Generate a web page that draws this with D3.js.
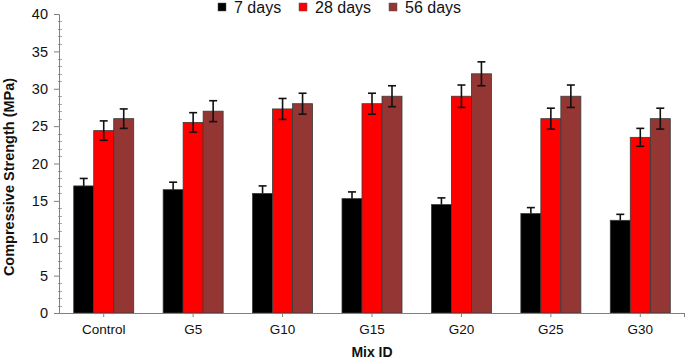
<!DOCTYPE html>
<html><head><meta charset="utf-8">
<script src="https://cdn.jsdelivr.net/npm/d3@7"></script>
<style>body{margin:0;background:#fff}svg{display:block;font-family:"Liberation Sans",Arial,sans-serif}</style>
</head><body><svg id="c" width="685" height="361"></svg>
<script>
const categories = ["Control","G5","G10","G15","G20","G25","G30"];
const seriesNames = ["7 days","28 days","56 days"];
const colors = ["#000000","#ff0000","#943634"];
const days7 = [17.0,16.5,16.0,15.3,14.5,13.3,12.4];
const days28 = [24.4,25.5,27.3,28.0,29.0,26.0,23.5];
const days56 = [26.0,27.0,28.0,29.0,32.0,29.0,26.0];
const err7 = [1.0,1.0,1.0,0.9,0.9,0.8,0.8];
const err28 = [1.3,1.3,1.4,1.4,1.5,1.4,1.2];
const err56 = [1.3,1.4,1.4,1.4,1.6,1.5,1.4];
const yTicks = [0,5,10,15,20,25,30,35,40];

const values = [days7, days28, days56];
const errs = [err7, err28, err56];
const FONT = "'Liberation Sans', Arial, sans-serif";

const svg = d3.select("#c");
const m = {l:59, r:0};
const W = 685, H = 361;
const x = d3.scaleBand().domain(categories).range([m.l, W - m.r]);
const y = d3.scaleLinear().domain([0,40]).range([313, 14]);
const groupW = 60;
const xs = d3.scaleBand().domain(d3.range(3)).range([0, groupW]);

// minor ticks
svg.append("g").selectAll("line").data(d3.range(0,41,1).filter(v=>v%5!==0)).join("line")
  .attr("x1", m.l-1).attr("x2", m.l+3).attr("y1", d=>Math.round(y(d))+0.5).attr("y2", d=>Math.round(y(d))+0.5)
  .attr("stroke","#aaa").attr("stroke-width",1);

// bars
const g = svg.append("g");
values.forEach((vals, si) => {
  g.append("g").selectAll("rect").data(vals).join("rect")
    .attr("x", (d,i)=> x(categories[i]) + x.bandwidth()/2 - groupW/2 + xs(si))
    .attr("y", d=>y(d))
    .attr("width", xs.bandwidth())
    .attr("height", d=> y(0)-y(d))
    .attr("fill", colors[si])
    .attr("stroke", "#3a3a3a").attr("stroke-width", 0.8);
});
// error bars
values.forEach((vals, si) => {
  const eg = svg.append("g").attr("stroke","#111").attr("stroke-width",1.6);
  vals.forEach((v,i)=>{
    const cx = x(categories[i]) + x.bandwidth()/2 - groupW/2 + xs(si) + xs.bandwidth()/2;
    const top = y(v + errs[si][i]);
    const bot = si===0 ? y(v) : y(v - errs[si][i]);
    eg.append("line").attr("x1",cx).attr("x2",cx).attr("y1",top).attr("y2",bot);
    eg.append("line").attr("x1",cx-4).attr("x2",cx+4).attr("y1",top).attr("y2",top);
    if (si!==0) eg.append("line").attr("x1",cx-4).attr("x2",cx+4).attr("y1",bot).attr("y2",bot);
  });
});

// y axis
const ya = svg.append("g").attr("transform",`translate(${m.l},0)`)
  .call(d3.axisLeft(y).tickValues(yTicks).tickSize(5).tickPadding(6));
ya.attr("font-family", FONT);
ya.select(".domain").attr("stroke","#808080");
ya.selectAll(".tick line").attr("stroke","#808080");
ya.selectAll("text").attr("font-size",14.5).attr("fill","#111");

// x axis
const xa = svg.append("g").attr("transform",`translate(0,${y(0)})`)
  .call(d3.axisBottom(x).tickSize(4).tickPadding(7).tickSizeOuter(0));
xa.attr("font-family", FONT);
xa.select(".domain").attr("stroke","#808080");
xa.selectAll(".tick line").attr("stroke","#808080");
xa.selectAll("text").attr("font-size",13.5).attr("fill","#111");
svg.append("line").attr("x1",W-0.5).attr("x2",W-0.5).attr("y1",y(0)).attr("y2",y(0)+4).attr("stroke","#808080");

// axis titles
svg.append("text").attr("transform","translate(14,177) rotate(-90)").attr("text-anchor","middle")
  .attr("font-size",14.5).attr("font-weight","bold").attr("fill","#111").text("Compressive Strength (MPa)");
svg.append("text").attr("x",372).attr("y",357).attr("text-anchor","middle")
  .attr("font-size",14).attr("font-weight","bold").attr("fill","#111").text("Mix ID");

// legend
const legX = [218, 299, 389];
const lg = svg.append("g");
seriesNames.forEach((n,i)=>{
  lg.append("rect").attr("x",legX[i]).attr("y",3).attr("width",8).attr("height",8)
    .attr("fill",colors[i]).attr("stroke","#555").attr("stroke-width",0.5);
  lg.append("text").attr("x",legX[i]+16).attr("y",12.5).attr("font-size",16).attr("fill","#111").text(n);
});
</script></body></html>
